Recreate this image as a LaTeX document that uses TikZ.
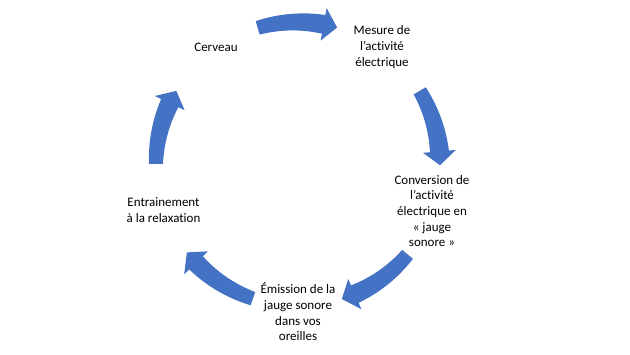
\documentclass[tikz,border=0pt]{standalone}
\usepackage{fontspec}
\setmainfont{Carlito}[Ligatures=NoCommon]
\definecolor{cycleblue}{HTML}{4472C4}
\tikzset{
  steptext/.style={align=center,inner sep=0pt,font=\fontsize{13}{15.7}\selectfont},
}
\begin{document}
\begin{tikzpicture}[x=1pt,y=1pt]
  \useasboundingbox (0,0) rectangle (630,354);
  \coordinate (hub) at (298,190);

  \node[steptext] (cerveau) at (216,307) {Cerveau};
  \node[steptext] (mesure) at (382,307) {Mesure de\\l'activité\\électrique};
  \node[steptext] (conversion) at (432,143) {Conversion de\\l’activité\\électrique en\\«~jauge\\sonore~»};
  \node[steptext] (emission) at (298,42) {Émission de la\\jauge sonore\\dans vos\\oreilles};
  \node[steptext] (relax) at (163.5,144) {Entrainement\\à la relaxation};

  % curved block arrows round the hub: tail angle / tip angle
  \begin{scope}[shift={(hub)}]
    \foreach \a/\b in {106.5/74, 31/-0.5, -39.5/-72, -108.5/-141.5, -180/-211}{
      \pgfmathsetmacro{\h}{\b+5.6}
      \fill[cycleblue]
        plot[domain=0:1,samples=16,variable=\t]
          ({(149+2.5*\t)*cos(\a+(\h-\a)*\t)},{(149+2.5*\t)*sin(\a+(\h-\a)*\t)})
        -- ({158.5*cos(\h)},{158.5*sin(\h)})
        -- ({142*cos(\b)},{142*sin(\b)})
        -- ({125.5*cos(\h)},{125.5*sin(\h)})
        -- plot[domain=1:0,samples=16,variable=\t]
          ({(135-2.5*\t)*cos(\a+(\h-\a)*\t)},{(135-2.5*\t)*sin(\a+(\h-\a)*\t)})
        -- cycle;
    }
  \end{scope}
\end{tikzpicture}
\end{document}
